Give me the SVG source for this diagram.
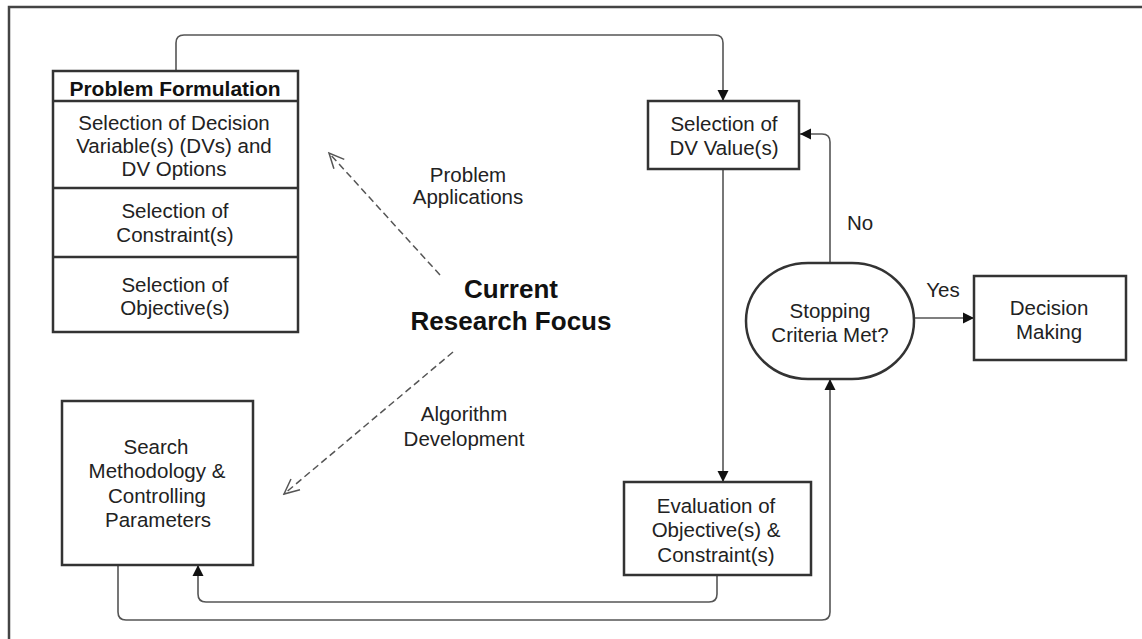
<svg xmlns="http://www.w3.org/2000/svg" width="1142" height="639" viewBox="0 0 1142 639">
<style>
  .box { fill: #fff; stroke: #333; stroke-width: 2.5; }
  .t { font-family: "Liberation Sans", Arial, sans-serif; font-size: 20.5px; fill: #222; text-anchor: middle; }
  .b { font-family: "Liberation Sans", Arial, sans-serif; font-weight: bold; fill: #111; text-anchor: middle; }
  .conn { fill: none; stroke: #555; stroke-width: 1.6; }
  .dash { fill: none; stroke: #555; stroke-width: 1.5; stroke-dasharray: 7 4; }
</style>
<defs>
  <marker id="arr" markerUnits="userSpaceOnUse" markerWidth="12" markerHeight="12" refX="11" refY="6" orient="auto">
    <path d="M0,0.5 L11,6 L0,11.5 z" fill="#111"/>
  </marker>
  <marker id="open" markerUnits="userSpaceOnUse" markerWidth="18" markerHeight="16" refX="16" refY="8" orient="auto">
    <path d="M1,1 L16,8 L1,15" fill="none" stroke="#555" stroke-width="1.5"/>
  </marker>
</defs>
<rect x="0" y="0" width="1142" height="639" fill="#fff"/>
<g id="border">
  <path d="M9,639 V7 H1142" fill="none" stroke="#444" stroke-width="2.5"/>
</g>
<g id="connectors">
  <path class="conn" d="M176,71 V43 Q176,35 184,35 H715 Q723,35 723,43 V101" marker-end="url(#arr)"/>
  <path class="conn" d="M723,169 V482" marker-end="url(#arr)"/>
  <path class="conn" d="M717,575 V594 Q717,602 709,602 H206 Q198,602 198,594 V565" marker-end="url(#arr)"/>
  <path class="conn" d="M118,565 V612 Q118,620 126,620 H822 Q830,620 830,612 V379" marker-end="url(#arr)"/>
  <path class="conn" d="M830,263 V142 Q830,134 822,134 H800" marker-end="url(#arr)"/>
  <path class="conn" d="M914,318 H974" marker-end="url(#arr)"/>
  <path class="dash" d="M440,275 L329,153" marker-end="url(#open)"/>
  <path class="dash" d="M453,352 L284,494" marker-end="url(#open)"/>
  <text class="t" x="468" y="182">Problem</text>
  <text class="t" x="468" y="204">Applications</text>
  <text class="t" x="464" y="421">Algorithm</text>
  <text class="t" x="464" y="446">Development</text>
  <text class="t" x="860" y="230">No</text>
  <text class="t" x="943" y="297">Yes</text>
</g>
<g id="problem-formulation">
  <rect class="box" x="53" y="71" width="245" height="261"/>
  <line x1="53" y1="101" x2="298" y2="101" stroke="#333" stroke-width="2.5"/>
  <line x1="53" y1="188" x2="298" y2="188" stroke="#333" stroke-width="2.5"/>
  <line x1="53" y1="257" x2="298" y2="257" stroke="#333" stroke-width="2.5"/>
  <text class="b" x="175" y="96" font-size="21">Problem Formulation</text>
  <text class="t" x="174" y="130">Selection of Decision</text>
  <text class="t" x="174" y="153">Variable(s) (DVs) and</text>
  <text class="t" x="174" y="176">DV Options</text>
  <text class="t" x="175" y="218">Selection of</text>
  <text class="t" x="175" y="242">Constraint(s)</text>
  <text class="t" x="175" y="292">Selection of</text>
  <text class="t" x="175" y="315">Objective(s)</text>
</g>
<g id="research-focus">
  <text class="b" x="511" y="298" font-size="26">Current</text>
  <text class="b" x="511" y="330" font-size="26">Research Focus</text>
</g>
<g id="search">
  <rect class="box" x="62" y="401" width="191" height="164"/>
  <text class="t" x="156" y="454">Search</text>
  <text class="t" x="157" y="478">Methodology &amp;</text>
  <text class="t" x="157" y="503">Controlling</text>
  <text class="t" x="158" y="527">Parameters</text>
</g>
<g id="selection-dv">
  <rect class="box" x="648" y="101" width="151" height="68"/>
  <text class="t" x="724" y="131">Selection of</text>
  <text class="t" x="724" y="155">DV Value(s)</text>
</g>
<g id="evaluation">
  <rect class="box" x="624" y="482" width="187" height="93"/>
  <text class="t" x="716" y="513">Evaluation of</text>
  <text class="t" x="716" y="537">Objective(s) &amp;</text>
  <text class="t" x="716" y="562">Constraint(s)</text>
</g>
<g id="stopping">
  <rect class="box" x="746" y="263" width="168" height="116" rx="62" ry="58"/>
  <text class="t" x="830" y="318">Stopping</text>
  <text class="t" x="830" y="342">Criteria Met?</text>
</g>
<g id="decision">
  <rect class="box" x="974" y="276" width="152" height="84"/>
  <text class="t" x="1049" y="315">Decision</text>
  <text class="t" x="1049" y="339">Making</text>
</g>
</svg>
